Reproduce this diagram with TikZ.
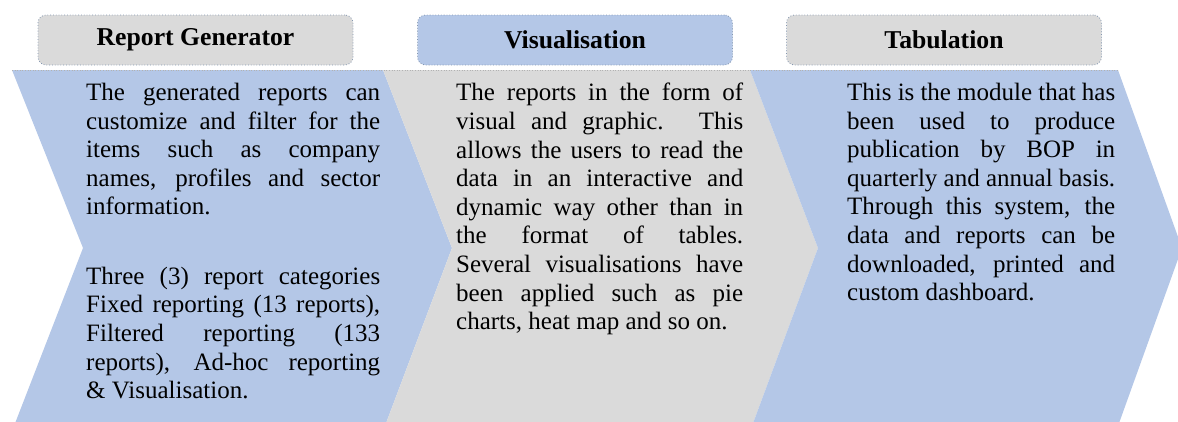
\documentclass[tikz,border=0pt]{standalone}
\usepackage{fontspec}
\setmainfont{Liberation Serif}
\definecolor{lblue}{HTML}{B4C7E7}
\definecolor{lgray}{HTML}{DADADA}
\definecolor{boxline}{HTML}{8497B0}
\tikzset{
  headbox/.style={draw=boxline, line width=0.8pt, dotted, rounded corners=8pt,
    minimum width=315pt, minimum height=50pt, inner sep=0pt,
    font=\fontsize{25.7}{28}\selectfont\bfseries},
  bodytext/.style={anchor=north west, inner sep=0pt, align=justify,
    font=\fontsize{25}{28.6}\selectfont}
}
\begin{document}
\begin{tikzpicture}[x=1pt,y=-1pt]
\useasboundingbox (0,0) rectangle (1178,421);
\begin{scope}
\clip (0,0) rectangle (1178,421);
% chevrons
\fill[lblue] (12,70) -- (383,70) -- (452,248) -- (385,426) -- (14,426) -- (83,248) -- cycle;
\fill[lgray] (383,70) -- (750,70) -- (818,248) -- (752,426) -- (385,426) -- (452,248) -- cycle;
\fill[lblue] (750,70) -- (1118,70) -- (1182,248) -- (1118,426) -- (752,426) -- (818,248) -- cycle;
\draw[gray!60, dotted, line width=0.6pt] (12,70) -- (1118,70);
\end{scope}
% headers
\node[headbox, fill=lgray] (h1) at (195.5,40) {Report Generator};
\node[headbox, fill=lblue] (h2) at (575,40) {Visualisation};
\node[headbox, fill=lgray] (h3) at (944,40) {Tabulation};
% body texts
\node[bodytext, text width=294pt] (c1a) at (86,83) {The generated reports can\linebreak
customize and filter for the\linebreak
items such as company\linebreak
names, profiles and sector\linebreak
information.};
\node[bodytext, text width=294pt] (c1b) at (86,266.8) {Three (3) report categories\linebreak
Fixed reporting (13 reports),\linebreak
Filtered reporting (133\linebreak
reports), Ad-hoc reporting\linebreak
\& Visualisation.};
\node[bodytext, text width=287pt] (c2) at (456,83) {The reports in the form of\linebreak
visual and graphic. This\linebreak
allows the users to read the\linebreak
data in an interactive and\linebreak
dynamic way other than in\linebreak
the format of tables.\linebreak
Several visualisations have\linebreak
been applied such as pie\linebreak
charts, heat map and so on.};
\node[bodytext, text width=268pt] (c3) at (847,83) {This is the module that has\linebreak
been used to produce\linebreak
publication by BOP in\linebreak
quarterly and annual basis.\linebreak
Through this system, the\linebreak
data and reports can be\linebreak
downloaded, printed and\linebreak
custom dashboard.};
\end{tikzpicture}
\end{document}
